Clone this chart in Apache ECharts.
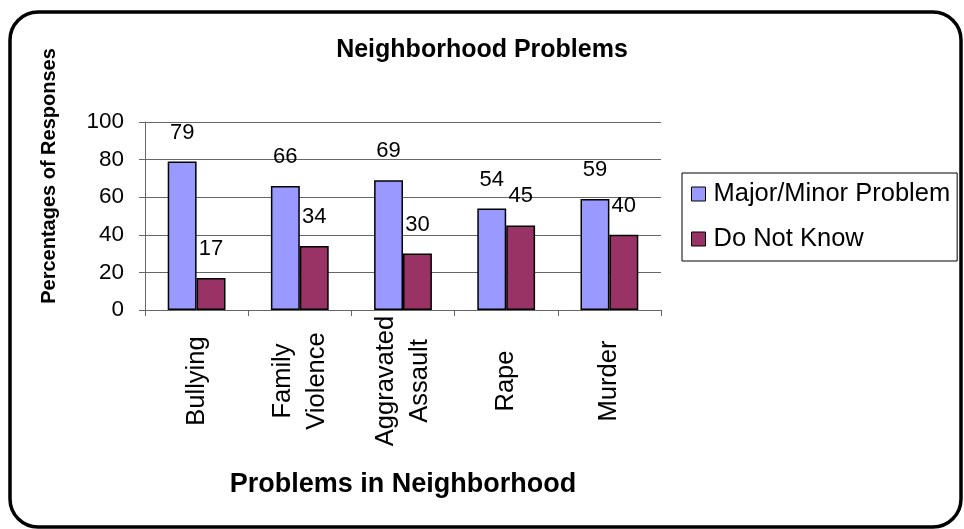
<!DOCTYPE html>
<html>
<head>
<meta charset="utf-8">
<title>Neighborhood Problems</title>
<script src="https://cdn.jsdelivr.net/npm/echarts@6/dist/echarts.min.js"></script>
<style>
  html, body { margin: 0; padding: 0; background: #ffffff; }
  #chart { width: 964px; height: 529px; }
</style>
</head>
<body>
<div id="chart"></div>
<script>
// Survey categories (x axis)
const categories = ['Bullying', 'Family\nViolence', 'Aggravated\nAssault', 'Rape', 'Murder'];
// Percent of respondents calling it a major or minor problem
const majorMinor = [79, 66, 69, 54, 59];
// Percent of respondents who did not know
const doNotKnow = [17, 34, 30, 45, 40];
const seriesNames = ['Major/Minor Problem', 'Do Not Know'];
// Value axis range
const yMin = 0, yMax = 100, yStep = 20;

const FONT = 'Liberation Sans, Arial, Helvetica, sans-serif';
const AXIS_GRAY = '#666666';

const chart = echarts.init(document.getElementById('chart'), null, { renderer: 'canvas' });

const barLabel = {
  show: true,
  position: 'top',
  distance: 18,
  color: '#000',
  fontFamily: FONT,
  fontSize: 22
};

chart.setOption({
  animation: false,
  backgroundColor: '#ffffff',
  textStyle: { fontFamily: FONT },
  title: {
    text: 'Neighborhood Problems',
    left: 'center',
    top: 33,
    textStyle: { fontFamily: FONT, fontSize: 25, fontWeight: 'bold', color: '#000' }
  },
  graphic: [
    {
      type: 'rect',
      z: -10,
      shape: { x: 10, y: 12, width: 951, height: 515, r: 28 },
      style: { fill: 'none', stroke: '#000', lineWidth: 3.5 }
    },
    {
      type: 'text',
      x: 49,
      y: 176,
      rotation: Math.PI / 2,
      style: {
        text: 'Percentages of Responses',
        fontFamily: FONT,
        fontSize: 20,
        fontWeight: 'bold',
        fill: '#000',
        align: 'center',
        verticalAlign: 'middle'
      }
    }
  ],
  legend: {
    orient: 'vertical',
    left: 682,
    top: 173,
    padding: [8, 7, 9, 9],
    itemGap: 19,
    itemWidth: 14,
    itemHeight: 14,
    icon: 'rect',
    borderColor: '#000',
    borderWidth: 1,
    itemStyle: { borderColor: '#000', borderWidth: 1 },
    textStyle: { fontFamily: FONT, fontSize: 25.5, lineHeight: 24, color: '#000', padding: [0, 0, 0, 3] },
    data: seriesNames
  },
  grid: { left: 145, right: 303, top: 122, bottom: 219, containLabel: false, outerBoundsMode: 'none' },
  xAxis: {
    type: 'category',
    data: categories,
    boundaryGap: true,
    name: 'Problems in Neighborhood',
    nameLocation: 'middle',
    nameGap: 161,
    nameTextStyle: { fontFamily: FONT, fontSize: 27, fontWeight: 'bold', color: '#000' },
    axisLine: { show: true, lineStyle: { color: AXIS_GRAY, width: 1 } },
    axisTick: { show: true, inside: false, length: 6, alignWithLabel: false, lineStyle: { color: AXIS_GRAY } },
    axisLabel: {
      rotate: 90,
      align: 'center',
      verticalAlign: 'middle',
      margin: 71,
      interval: 0,
      fontFamily: FONT,
      fontSize: 25.5,
      lineHeight: 34,
      color: '#000'
    },
    splitLine: { show: false }
  },
  yAxis: {
    type: 'value',
    min: yMin,
    max: yMax,
    interval: yStep,
    axisLine: { show: true, lineStyle: { color: AXIS_GRAY, width: 1 } },
    axisTick: { show: true, inside: false, length: 6, lineStyle: { color: AXIS_GRAY } },
    axisLabel: { margin: 21, fontFamily: FONT, fontSize: 22.5, color: '#000' },
    splitLine: { show: true, lineStyle: { color: AXIS_GRAY, width: 1 } }
  },
  series: [
    {
      name: seriesNames[0],
      type: 'bar',
      data: majorMinor,
      barGap: '0%',
      barCategoryGap: '44%',
      itemStyle: { color: '#9999FF', borderColor: '#000', borderWidth: 1.5 },
      label: barLabel
    },
    {
      name: seriesNames[1],
      type: 'bar',
      data: doNotKnow,
      itemStyle: { color: '#993366', borderColor: '#000', borderWidth: 1.5 },
      label: barLabel
    }
  ]
});
</script>
</body>
</html>
